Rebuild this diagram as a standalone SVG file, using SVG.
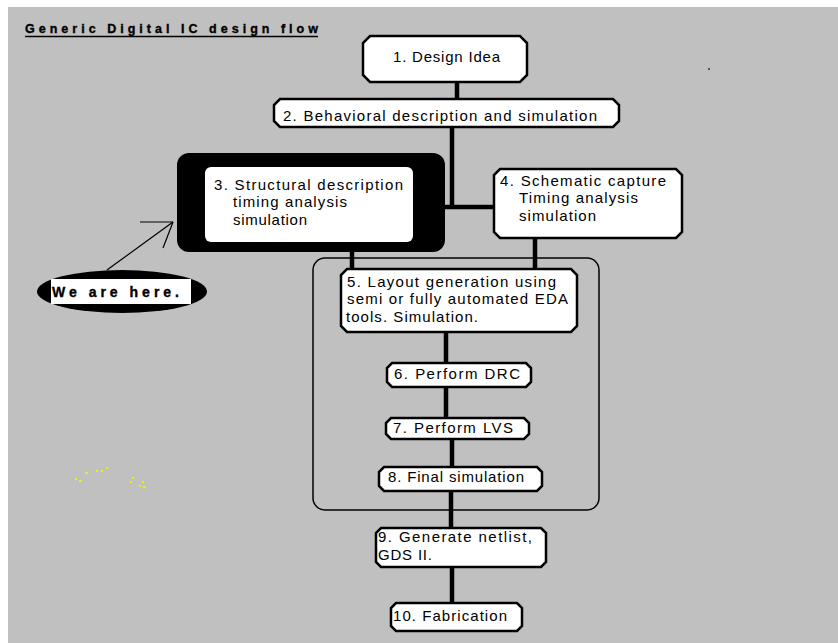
<svg xmlns="http://www.w3.org/2000/svg" width="838" height="643" viewBox="0 0 838 643">
  <style>
    .box { fill: #ffffff; stroke: #000000; stroke-width: 2.5; stroke-linejoin: miter; }
    .lbl { font-family: "Liberation Sans", Arial, sans-serif; font-size: 15px; fill: #000000; }
    .bold { font-family: "Liberation Sans", Arial, sans-serif; font-weight: bold; fill: #000000; stroke: #000000; stroke-width: 0.35; }
    .wire { stroke: #000000; stroke-width: 4.5; fill: none; }
    .thin { stroke: #000000; stroke-width: 1.2; fill: none; }
  </style>

  <!-- page -->
  <rect x="0" y="0" width="838" height="643" fill="#ffffff"/>
  <rect x="8" y="7" width="830" height="636" fill="#c0c0c0"/>

  <!-- heading -->
  <g id="title">
    <text class="bold" x="25" y="33" font-size="12.5" textLength="293" lengthAdjust="spacing">Generic Digital IC design flow</text>
    <line x1="25" y1="36.5" x2="318" y2="36.5" stroke="#000000" stroke-width="1.5"/>
  </g>

  <!-- layout stage frame (steps 5-8) -->
  <g id="layout-frame">
    <rect x="313" y="258" width="286" height="252" rx="12" fill="none" stroke="#000000" stroke-width="1.5"/>
  </g>

  <!-- connectors -->
  <g id="connectors">
    <line class="wire" x1="457" y1="83" x2="457" y2="98"/>
    <line class="wire" x1="452" y1="128" x2="452" y2="209"/>
    <line class="wire" x1="445" y1="207" x2="493" y2="207"/>
    <line class="wire" x1="352" y1="252" x2="352" y2="268"/>
    <line class="wire" x1="535" y1="239" x2="535" y2="268"/>
    <line class="wire" x1="446" y1="333" x2="446" y2="362"/>
    <line class="wire" x1="446" y1="388" x2="446" y2="417"/>
    <line class="wire" x1="452" y1="440" x2="452" y2="466"/>
    <line class="wire" x1="451" y1="492" x2="451" y2="527"/>
    <line class="wire" x1="452" y1="568" x2="452" y2="602"/>
    <!-- pointer from callout to step 3 -->
    <line class="thin" x1="107" y1="270" x2="173" y2="222"/>
    <line class="thin" x1="140" y1="222" x2="173" y2="222"/>
    <line class="thin" x1="173" y1="222" x2="163" y2="248"/>
  </g>

  <g id="step1">
    <path class="box" d="M370,36 H520 L527,43 V75 L520,82 H370 L363,75 V43 Z"/>
    <text class="lbl" x="393" y="62" textLength="107" lengthAdjust="spacing">1. Design Idea</text>
  </g>

  <g id="step2">
    <path class="box" d="M280,99 H613 L619,105 V121 L613,127 H280 L274,121 V105 Z"/>
    <text class="lbl" x="283" y="121" textLength="314" lengthAdjust="spacing">2. Behavioral description and simulation</text>
  </g>

  <g id="step3">
    <rect x="177" y="153" width="268" height="99" rx="12" fill="#000000"/>
    <rect x="205" y="167" width="208" height="75" rx="6" fill="#ffffff"/>
    <text class="lbl" x="214" y="190" textLength="189" lengthAdjust="spacing">3. Structural description</text>
    <text class="lbl" x="233" y="207" textLength="114" lengthAdjust="spacing">timing analysis</text>
    <text class="lbl" x="233" y="225" textLength="74" lengthAdjust="spacing">simulation</text>
  </g>

  <g id="step4">
    <path class="box" d="M500,169 H676 L682,175 V232 L676,238 H500 L494,232 V175 Z"/>
    <text class="lbl" x="500" y="186" textLength="166" lengthAdjust="spacing">4. Schematic capture</text>
    <text class="lbl" x="519" y="203" textLength="119" lengthAdjust="spacing">Timing analysis</text>
    <text class="lbl" x="519" y="221" textLength="77" lengthAdjust="spacing">simulation</text>
  </g>

  <g id="step5">
    <path class="box" d="M347,269 H571 L577,275 V326 L571,332 H347 L341,326 V275 Z"/>
    <text class="lbl" x="347" y="287" textLength="209" lengthAdjust="spacing">5. Layout generation using</text>
    <text class="lbl" x="347" y="304" textLength="221" lengthAdjust="spacing">semi or fully automated EDA</text>
    <text class="lbl" x="346" y="322" textLength="132" lengthAdjust="spacing">tools. Simulation.</text>
  </g>

  <g id="step6">
    <path class="box" d="M392,363 H526 L531,368 V382 L526,387 H392 L387,382 V368 Z"/>
    <text class="lbl" x="394" y="379" textLength="126" lengthAdjust="spacing">6. Perform DRC</text>
  </g>

  <g id="step7">
    <path class="box" d="M391,418 H524 L529,423 V434 L524,439 H391 L386,434 V423 Z"/>
    <text class="lbl" x="393" y="433" textLength="120" lengthAdjust="spacing">7. Perform LVS</text>
  </g>

  <g id="step8">
    <path class="box" d="M384,467 H537 L542,472 V486 L537,491 H384 L379,486 V472 Z"/>
    <text class="lbl" x="388" y="482" textLength="136" lengthAdjust="spacing">8. Final simulation</text>
  </g>

  <g id="step9">
    <path class="box" d="M381,528 H541 L546,533 V562 L541,567 H381 L376,562 V533 Z"/>
    <text class="lbl" x="378" y="542" textLength="154" lengthAdjust="spacing">9. Generate netlist,</text>
    <text class="lbl" x="378" y="560" textLength="54" lengthAdjust="spacing">GDS II.</text>
  </g>

  <g id="step10">
    <path class="box" d="M396,603 H517 L522,608 V626 L517,631 H396 L391,626 V608 Z"/>
    <text class="lbl" x="393" y="621" textLength="114" lengthAdjust="spacing">10. Fabrication</text>
  </g>

  <g id="callout">
    <ellipse cx="122" cy="291.5" rx="85" ry="21.5" fill="#000000"/>
    <rect x="51" y="279" width="140" height="25" fill="#ffffff"/>
    <text class="bold" x="52" y="297" font-size="14" textLength="127" lengthAdjust="spacing">We are here.</text>
  </g>

  <!-- stray specks -->
  <g id="specks">
    <rect x="708" y="68" width="2" height="2" fill="#555555"/>
    <g fill="#f0f000">
      <rect x="75" y="478" width="2" height="2"/>
      <rect x="79" y="480" width="3" height="2"/>
      <rect x="85" y="472" width="3" height="2"/>
      <rect x="96" y="470" width="2" height="2"/>
      <rect x="101" y="470" width="2" height="2"/>
      <rect x="106" y="467" width="2" height="2"/>
      <rect x="132" y="477" width="2" height="2"/>
      <rect x="130" y="481" width="2" height="2"/>
      <rect x="142" y="481" width="2" height="2"/>
      <rect x="139" y="485" width="2" height="2"/>
      <rect x="143" y="486" width="3" height="2"/>
    </g>
  </g>
</svg>
